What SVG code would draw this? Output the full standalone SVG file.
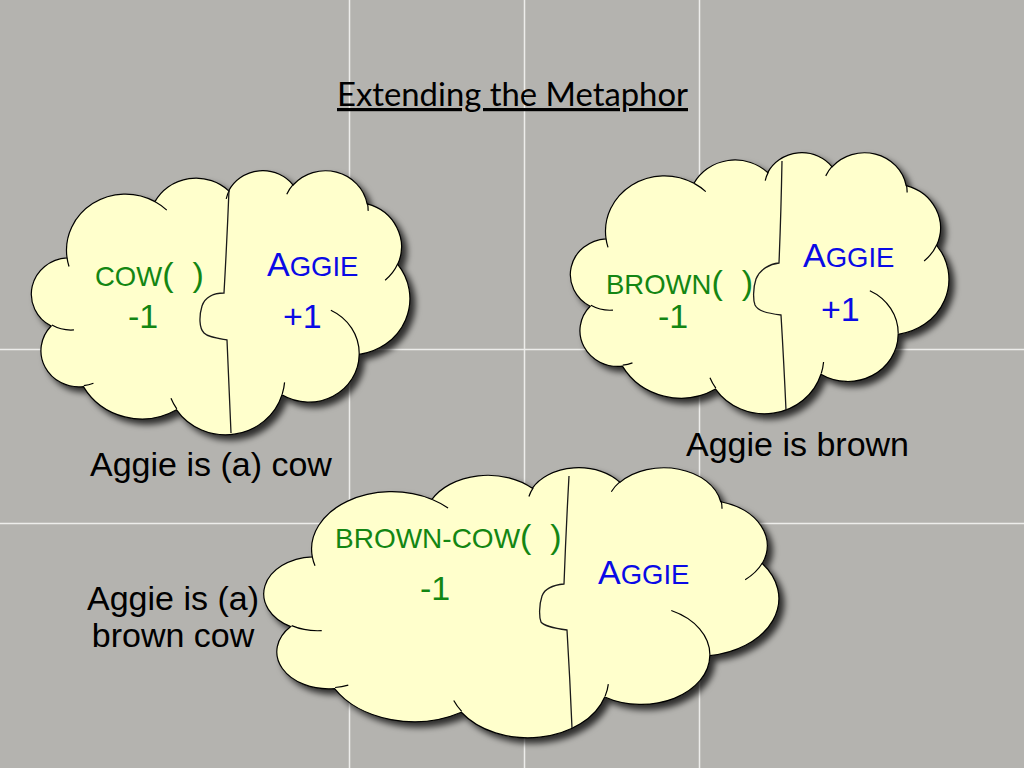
<svg xmlns="http://www.w3.org/2000/svg" xmlns:xlink="http://www.w3.org/1999/xlink" width="1024" height="768" viewBox="0 0 1024 768">
<style>
.bg{fill:#b4b3af}
.grid line{stroke:#ededeb;stroke-width:1.5}
.cloud{fill:#ffffcc;stroke:#000;stroke-width:1.2}
.inner{fill:none;stroke:#000;stroke-width:1.2}
.div{fill:none;stroke:#1a1a1a;stroke-width:1.3}
.t{font-family:"Liberation Sans",Arial,sans-serif;font-size:34px}
.sc{font-size:27.5px}
.g{fill:#138613}
.b{fill:#0a0ae6}
.k{fill:#000}
.title{font-family:Lato,"Open Sans",sans-serif;font-size:32px;fill:#000;text-decoration:underline}
</style>
<defs>
<filter id="shadow" x="-10%" y="-10%" width="125%" height="125%">
<feDropShadow dx="5" dy="5" stdDeviation="3" flood-color="#000" flood-opacity="0.75"/>
</filter>
<path id="cloudOutline" vector-effect="non-scaling-stroke" d="M3900,14370 A6753,9190 0 0 1 13975,5178 A5333,7267 0 0 1 22426,3409 A4365,5945 0 0 1 29804,2458 A4857,6595 0 0 1 38288,5555 A5333,7273 0 0 1 41789,15439 A6775,9220 0 0 1 37374,30180 A5785,7867 0 0 1 28525,36790 A6752,9215 0 0 1 16450,39241 A7720,10543 0 0 1 5777,35451 A4360,5918 0 0 1 2084,25532 A4345,5945 0 0 1 3900,14370 Z"/>
<path id="cloudInner" vector-effect="non-scaling-stroke" d="M4693,26177 A4345,5945 0 0 1 2160,25380 M6928,34899 A4360,5918 0 0 1 5820,35280 M16478,39090 A6752,9215 0 0 1 15810,37349 M28827,34751 A6752,9215 0 0 1 28560,36661 M34129,22954 A5785,7867 0 0 1 37380,30090 M41798,15354 A5333,7273 0 0 1 40350,18030 M38324,5426 A4857,6595 0 0 1 38400,6689 M29078,3952 A4857,6595 0 0 1 29820,2339 M22141,4720 A4365,5945 0 0 1 22500,3330 M14000,5192 A6753,9190 0 0 1 15330,6565 M4127,15789 A6753,9190 0 0 1 3900,14371"/>
</defs>
<rect class="bg" x="0" y="0" width="1024" height="768"/>
<g class="grid">
<line x1="349.5" y1="0" x2="349.5" y2="768"/>
<line x1="524.5" y1="0" x2="524.5" y2="768"/>
<line x1="699.5" y1="0" x2="699.5" y2="768"/>
<line x1="0" y1="349.5" x2="1024" y2="349.5"/>
<line x1="0" y1="523.5" x2="1024" y2="523.5"/>
</g>
<text id="title" class="title" x="337" y="106" textLength="351" lengthAdjust="spacingAndGlyphs">Extending the Metaphor</text>

<g id="cloud-cow">
<g filter="url(#shadow)"><use xlink:href="#cloudOutline" class="cloud" transform="translate(33,170) scale(0.0087269,0.0061111)"/></g>
<use xlink:href="#cloudInner" class="inner" transform="translate(33,170) scale(0.0087269,0.0061111)"/>
<path class="div" d="M229,190 Q227,240 224,293 C214,293 205,297 202,306 C199,316 199,328 204,333 C208,337 216,338 227,340 Q229,385 231,433"/>
<text class="t g" x="95" y="286" xml:space="preserve"><tspan class="sc">COW</tspan>(  )</text>
<text class="t g" x="128" y="328">-1</text>
<text class="t b" x="267" y="276">A<tspan class="sc">GGIE</tspan></text>
<text class="t b" x="283" y="328">+1</text>
</g>

<g id="cloud-brown">
<g filter="url(#shadow)"><use xlink:href="#cloudOutline" class="cloud" transform="translate(572,152) scale(0.0087269,0.0060417)"/></g>
<use xlink:href="#cloudInner" class="inner" transform="translate(572,152) scale(0.0087269,0.0060417)"/>
<path class="div" d="M782,161 Q781,215 779,263 C770,264 760,269 756,279 C753,288 753,300 755,305 C758,311 766,313 781,315 Q784,365 786,410"/>
<text class="t g" x="606" y="294" xml:space="preserve"><tspan class="sc">BROWN</tspan>(  )</text>
<text class="t g" x="658" y="328">-1</text>
<text class="t b" x="803" y="267">A<tspan class="sc">GGIE</tspan></text>
<text class="t b" x="821" y="321">+1</text>
</g>

<g id="cloud-brown-cow">
<g filter="url(#shadow)"><use xlink:href="#cloudOutline" class="cloud" transform="translate(266,467) scale(0.011875,0.00625)"/></g>
<use xlink:href="#cloudInner" class="inner" transform="translate(266,467) scale(0.011875,0.00625)"/>
<path class="div" d="M569,476 Q566,530 564,584 C553,585 545,588 542,596 C539,605 539,617 541,622 C544,626 552,628 567,630 Q570,680 572,728"/>
<text class="t g" x="335" y="548" xml:space="preserve"><tspan class="sc" style="font-size:28px">BROWN-COW</tspan>(  )</text>
<text class="t g" x="420" y="600">-1</text>
<text class="t b" x="598" y="584">A<tspan class="sc">GGIE</tspan></text>
</g>

<g id="labels">
<text class="t k" x="90" y="476">Aggie is (a) cow</text>
<text class="t k" x="686" y="456">Aggie is brown</text>
<text class="t k" x="173" y="610" text-anchor="middle">Aggie is (a)</text>
<text class="t k" x="173" y="647" text-anchor="middle">brown cow</text>
</g>
<g id="connectors"/>
</svg>
